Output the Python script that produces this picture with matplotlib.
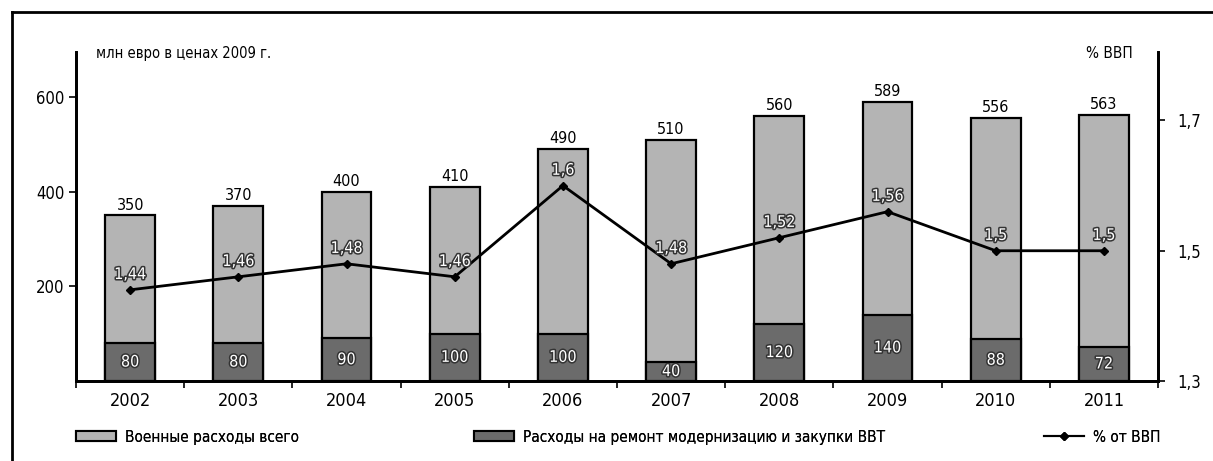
import numpy as np
import matplotlib
matplotlib.use('Agg')
import matplotlib.pyplot as plt
import matplotlib.patheffects as pe
from matplotlib.lines import Line2D
from matplotlib.patches import Patch

plt.rcParams['font.family'] = ['DejaVu Sans']
plt.rcParams['font.stretch'] = 'condensed'

# data
years = ['2002', '2003', '2004', '2005', '2006', '2007', '2008', '2009', '2010', '2011']
total = [350, 370, 400, 410, 490, 510, 560, 589, 556, 563]
procurement = [80, 80, 90, 100, 100, 40, 120, 140, 88, 72]
gdp_share = [1.44, 1.46, 1.48, 1.46, 1.6, 1.48, 1.52, 1.56, 1.5, 1.5]

light = '#b4b4b4'
dark = '#6b6b6b'

fig = plt.figure(figsize=(12.13, 4.61), dpi=100)
ax = fig.add_axes([0.0627, 0.1735, 0.892, 0.7135])
ax2 = ax.twinx()

x = np.arange(len(years))
w = 0.46
ax.bar(x, total, width=w, color=light, edgecolor='black', linewidth=1.6, zorder=2)
ax.bar(x, procurement, width=w, color=dark, edgecolor='black', linewidth=1.6, zorder=3)

outline = [pe.withStroke(linewidth=2.2, foreground='#333333')]
for i in range(len(years)):
    ax.text(x[i], total[i] + 6, str(total[i]), ha='center', va='bottom', fontsize=11.5)
    ax.text(x[i], procurement[i] / 2, str(procurement[i]), ha='center', va='center',
            fontsize=11.5, color='white', path_effects=outline, zorder=4)

ax2.plot(x, gdp_share, color='black', lw=2, marker='D', markersize=4, zorder=5)
for i in range(len(years)):
    ax2.text(x[i], gdp_share[i] + 0.012, str(gdp_share[i]).replace('.', ','), ha='center',
             va='bottom', fontsize=11.5, color='white', path_effects=outline, zorder=6)

ax.set_xlim(-0.5, 9.5)
ax.set_ylim(0, 695)
ax2.set_ylim(1.3, 1.805)

ax.set_yticks([200, 400, 600])
ax.set_xticks(x)
ax.set_xticklabels(years, fontsize=13)
ax.set_xticks(np.arange(-0.5, 10, 1), minor=True)
ax.tick_params(axis='x', which='major', length=0, pad=8)
ax.tick_params(axis='x', which='minor', length=5, width=1.2, direction='out')
ax.tick_params(axis='y', labelsize=12, length=5, width=1.2, direction='out')

ax2.set_yticks([1.3, 1.5, 1.7])
ax2.set_yticklabels(['1,3', '1,5', '1,7'], fontsize=12)
ax2.tick_params(axis='y', length=5, width=1.2, direction='out', pad=9)

for a in (ax, ax2):
    a.spines['top'].set_visible(False)
    for s in ('left', 'right', 'bottom'):
        a.spines[s].set_linewidth(2)

fig.text(0.079, 0.885, 'млн евро в ценах 2009 г.', fontsize=10.5, va='center', ha='left')
fig.text(0.934, 0.885, '% ВВП', fontsize=11, va='center', ha='right')

# legend entries placed separately
h1 = Patch(facecolor=light, edgecolor='black', linewidth=1.5)
h2 = Patch(facecolor=dark, edgecolor='black', linewidth=1.5)
h3 = Line2D([], [], color='black', lw=1.5, marker='D', markersize=4)
for handle, label, xpos in [(h1, 'Военные расходы всего', 0.063),
                            (h2, 'Расходы на ремонт модернизацию и закупки ВВТ', 0.391),
                            (h3, '% от ВВП', 0.861)]:
    leg = fig.legend([handle], [label], loc='center left', bbox_to_anchor=(xpos, 0.052),
                     frameon=False, fontsize=11, handlelength=2.6, handleheight=0.6,
                     handletextpad=0.6, borderaxespad=0, borderpad=0)
    fig.add_artist(leg)

# frame of the original picture
fig.add_artist(Line2D([0.0099, 1.0], [0.974, 0.974], color='black', lw=2, transform=fig.transFigure))
fig.add_artist(Line2D([0.0099, 0.0099], [0.0, 0.974], color='black', lw=2, transform=fig.transFigure))

fig.savefig('out.png', dpi=100)
